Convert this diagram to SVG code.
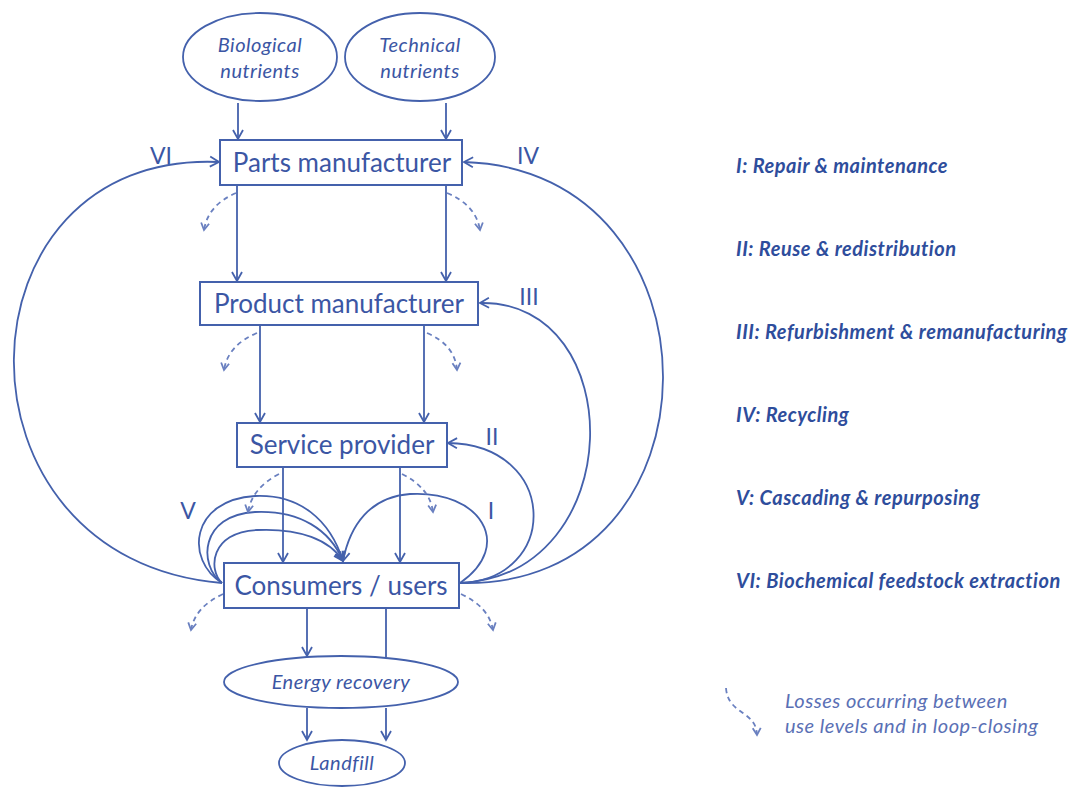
<svg xmlns="http://www.w3.org/2000/svg" width="1078" height="787" viewBox="0 0 1078 787">
  <style>
    .box { fill: #ffffff; stroke: #4461ac; stroke-width: 2; }
    .oval { fill: #ffffff; stroke: #4461ac; stroke-width: 1.8; }
    .flow { fill: none; stroke: #4461ac; stroke-width: 1.8; }
    .loss { fill: none; stroke: #6a80c0; stroke-width: 1.8; stroke-dasharray: 5 4; }
    .boxtxt { font-family: Lato, "Open Sans", sans-serif; font-size: 26px; fill: #3b56a4; text-anchor: middle; }
    .ovaltxt { font-family: Lato, "Open Sans", sans-serif; font-size: 20px; font-style: italic; fill: #3b56a4; text-anchor: middle; letter-spacing: 0.5px; }
    .loop { font-family: Lato, "Open Sans", sans-serif; font-size: 23px; fill: #3b56a4; text-anchor: middle; }
    .legend { font-family: Lato, "Open Sans", sans-serif; font-size: 20px; font-style: italic; font-weight: bold; fill: #2e4d9c; letter-spacing: 0.5px; }
    .note { font-family: Lato, "Open Sans", sans-serif; font-size: 20px; font-style: italic; fill: #5a70b5; letter-spacing: 0.5px; }
  </style>
  <defs>
    <marker id="head" viewBox="-11 -7 13 14" refX="0" refY="0" markerWidth="13" markerHeight="14" markerUnits="userSpaceOnUse" orient="auto">
      <path d="M -9 -5 L 0 0 L -9 5" fill="none" stroke="#4461ac" stroke-width="1.8"/>
    </marker>
    <marker id="losshead" viewBox="-10 -6 12 12" refX="0" refY="0" markerWidth="12" markerHeight="12" markerUnits="userSpaceOnUse" orient="auto">
      <path d="M -7 -4 L 0 0 L -7 4" fill="none" stroke="#6a80c0" stroke-width="1.8" stroke-dasharray="none"/>
    </marker>
  </defs>

  <rect width="1078" height="787" fill="#ffffff"/>

  <!-- connectors -->
  <g id="connectors">
    <!-- main downward flows -->
    <g class="flow" marker-end="url(#head)">
      <path d="M 238 103 L 238 139"/>
      <path d="M 446 103 L 446 139"/>
      <path d="M 237 185 L 237 281"/>
      <path d="M 446 185 L 446 281"/>
      <path d="M 260 325 L 260 422"/>
      <path d="M 424 325 L 424 422"/>
      <path d="M 283 467 L 283 562"/>
      <path d="M 400 467 L 400 562"/>
      <path d="M 307 608 L 307 656"/>
      <path d="M 307 708 L 307 740"/>
      <path d="M 386 708 L 386 740"/>
    </g>
    <path class="flow" d="M 386 608 L 386 657"/>

    <!-- loop-closing flows -->
    <g class="flow" marker-end="url(#head)">
      <!-- VI -->
      <path d="M 222 583 C -60 560, -50 150, 219 162"/>
      <!-- IV -->
      <path d="M 460 583 C 730 590, 730 170, 464 162"/>
      <!-- III -->
      <path d="M 460 583 C 630 575, 630 300, 480 303"/>
      <!-- II -->
      <path d="M 460 583 C 560 580, 560 445, 448 443"/>
      <!-- I -->
      <path d="M 460 583 C 515 545, 480 490, 410 494 C 370 497, 350 525, 343 561"/>
      <!-- V -->
      <path d="M 222 583 C 185 560, 190 500, 255 496 C 300 494, 330 520, 343 561"/>
      <path d="M 222 583 C 198 565, 200 515, 255 512 C 300 510, 330 530, 343 561"/>
      <path d="M 222 583 C 208 570, 210 532, 257 530 C 300 528, 330 540, 343 561"/>
    </g>

    <!-- losses -->
    <g class="loss" marker-end="url(#losshead)">
      <path d="M 236 193 Q 208 205 204 230"/>
      <path d="M 447 193 Q 476 205 480 230"/>
      <path d="M 257 333 Q 228 345 224 370"/>
      <path d="M 427 333 Q 455 345 457 370"/>
      <path d="M 279 474 Q 252 488 248 512"/>
      <path d="M 402 474 Q 430 488 433 512"/>
      <path d="M 223 594 Q 195 607 191 630"/>
      <path d="M 461 594 Q 489 607 493 630"/>
      <path d="M 726 688 C 728 715, 756 710, 757 735"/>
    </g>
  </g>

  <!-- nodes -->
  <g id="biological-nutrients">
    <ellipse class="oval" cx="260" cy="57" rx="77" ry="44"/>
    <text class="ovaltxt" x="260" y="52">Biological</text>
    <text class="ovaltxt" x="260" y="78">nutrients</text>
  </g>
  <g id="technical-nutrients">
    <ellipse class="oval" cx="420" cy="57" rx="75" ry="44"/>
    <text class="ovaltxt" x="420" y="52">Technical</text>
    <text class="ovaltxt" x="420" y="78">nutrients</text>
  </g>
  <g id="parts-manufacturer">
    <rect class="box" x="220" y="140" width="242" height="45"/>
    <text class="boxtxt" x="342" y="172">Parts manufacturer</text>
  </g>
  <g id="product-manufacturer">
    <rect class="box" x="200" y="282" width="278" height="43"/>
    <text class="boxtxt" x="339" y="313">Product manufacturer</text>
  </g>
  <g id="service-provider">
    <rect class="box" x="237" y="423" width="210" height="44"/>
    <text class="boxtxt" x="342" y="454">Service provider</text>
  </g>
  <g id="consumers-users">
    <rect class="box" x="224" y="563" width="235" height="45"/>
    <text class="boxtxt" x="341" y="595">Consumers / users</text>
  </g>
  <g id="energy-recovery">
    <ellipse class="oval" cx="341" cy="682" rx="117" ry="26"/>
    <text class="ovaltxt" x="341" y="689">Energy recovery</text>
  </g>
  <g id="landfill">
    <ellipse class="oval" cx="342" cy="763" rx="63" ry="23"/>
    <text class="ovaltxt" x="342" y="770">Landfill</text>
  </g>

  <!-- loop labels -->
  <g id="loop-labels">
    <text class="loop" x="161" y="164">VI</text>
    <text class="loop" x="528" y="164">IV</text>
    <text class="loop" x="529" y="305">III</text>
    <text class="loop" x="492" y="445">II</text>
    <text class="loop" x="188" y="519">V</text>
    <text class="loop" x="491" y="519">I</text>
  </g>

  <!-- legend -->
  <g id="legend">
    <text class="legend" x="736" y="173">I: Repair &amp; maintenance</text>
    <text class="legend" x="736" y="256">II: Reuse &amp; redistribution</text>
    <text class="legend" x="736" y="339">III: Refurbishment &amp; remanufacturing</text>
    <text class="legend" x="736" y="422">IV: Recycling</text>
    <text class="legend" x="736" y="505">V: Cascading &amp; repurposing</text>
    <text class="legend" x="736" y="588">VI: Biochemical feedstock extraction</text>
    <text class="note" x="785" y="708">Losses occurring between</text>
    <text class="note" x="785" y="733">use levels and in loop-closing</text>
  </g>
</svg>
